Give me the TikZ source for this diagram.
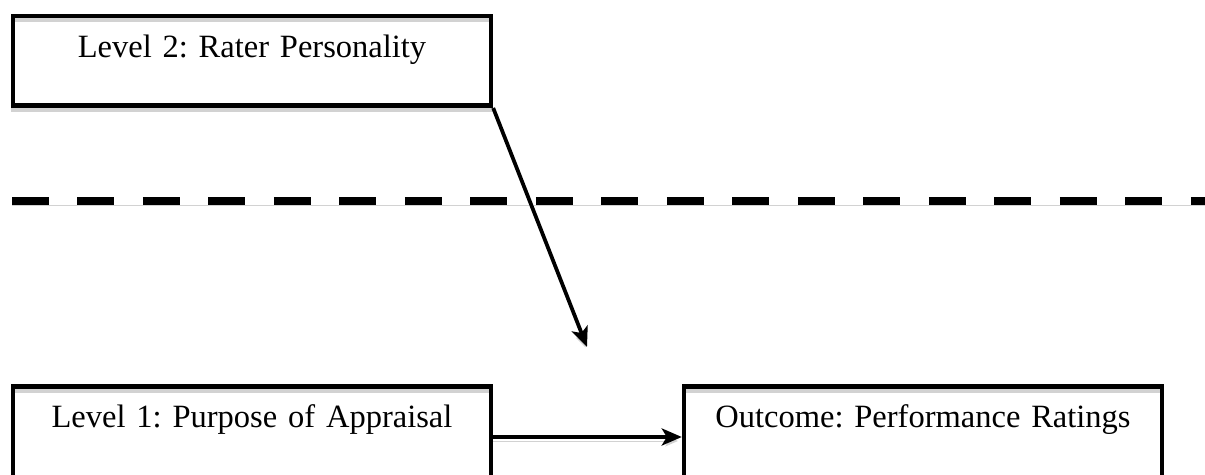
\documentclass[tikz,border=0pt]{standalone}
\usepackage{fontspec}
\setmainfont{Liberation Serif}
\usetikzlibrary{arrows.meta}
\frenchspacing

\tikzset{
  softshadow/.style={preaction={draw=gray!35, transform canvas={yshift=-0.08cm}}},
  levelbox/.style={draw, line width=0.09cm, inner sep=0pt, anchor=north,
    text width=9.56cm, align=center, text height=0.83cm, text depth=0.97cm,
    font=\fontsize{18.5}{22}\selectfont, softshadow},
  link/.style={line width=0.075cm, -{Stealth[length=0.4cm, width=0.34cm, inset=0.1cm]}, softshadow},
}

\begin{document}
\begin{tikzpicture}[x=0.02cm,y=-0.02cm]
\useasboundingbox (0,0) rectangle (1205,474);
\clip (0,0) rectangle (1205,474);

\node[levelbox] (rater) at (252,13.5) {Level 2: Rater Personality};
\node[levelbox, text depth=1.2cm] (purpose) at (252,384) {Level 1: Purpose of Appraisal};
\node[levelbox, text depth=1.2cm] (outcome) at (923,384) {Outcome: Performance Ratings};

\draw[line width=0.16cm, dash pattern=on 0.74cm off 0.57cm, softshadow] (12,201) -- (1205,201);

\coordinate (tip) at (587,347);
\draw[link] (rater.south east) -- (tip);
\draw[link] (purpose.east) -- (outcome.west);
\end{tikzpicture}
\end{document}
